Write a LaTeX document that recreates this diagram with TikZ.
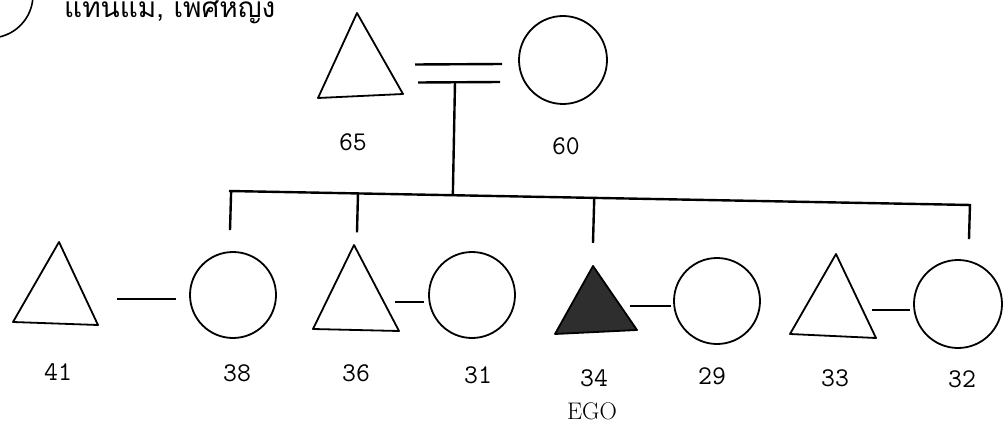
\documentclass[tikz,border=0pt]{standalone}
\usepackage{fontspec}
\newfontfamily\thaifont[Script=Thai]{Loma}
\usetikzlibrary{calc}
\begin{document}
\begin{tikzpicture}[x=1pt,y=-1pt,
  shape line/.style={draw, line width=1.8pt, line join=round},
  female/.style={circle, shape line, inner sep=0pt, minimum size=#1},
  female/.default=86pt,
  malebox/.style={inner sep=0pt, minimum width=85pt, minimum height=83pt},
  link/.style={line width=2.4pt},
  age/.style={font=\fontsize{27}{27}\selectfont\ttfamily, anchor=base},
]
\useasboundingbox (0,0) rectangle (1007,425);
\clip (0,0) rectangle (1007,425);

% partial circle and caption at top left
\draw[line width=1.6pt] (-10,-5) circle[radius=43];
\node[anchor=base west, inner sep=0pt, font=\thaifont\fontsize{28}{28}\selectfont] (cap) at (64,18) {แทนแม่, เพศหญิง};

% parents
\node[malebox] (m65) at (360.5,55) {};
\draw[shape line] (357,13) -- (403,94) -- (318,98) -- cycle;
\node[female=88pt] (f60) at (563,60) {};
\draw[link] ([xshift=12pt,yshift=-9.5pt]m65.east) -- ([xshift=-16pt,yshift=-4pt]f60.west);
\draw[link] ([xshift=15pt,yshift=-27.5pt]m65.east) -- ([xshift=-18pt,yshift=-22pt]f60.west);
\coordinate (mar) at (455,82);
\coordinate (sibL) at (229,191);
\coordinate (sibR) at (971,205);
\draw[link] (sibL) -- (sibR);
\draw[link] (mar) -- ($(sibL)!(mar)!(sibR)$);

% children row
\node[malebox] (m41) at (55.5,283) {};
\draw[shape line] (59,242) -- (98,325) -- (13,322) -- cycle;
\node[female] (f38) at (233,295) {};
\node[malebox] (m36) at (356,288) {};
\draw[shape line] (354,245) -- (399,331) -- (313,329) -- cycle;
\node[female] (f31) at (472,295) {};
\node[malebox, minimum width=82pt, minimum height=68pt] (m34) at (596,300) {};
\draw[shape line, fill=black!82] (593,266) -- (637,330) -- (555,334) -- cycle;
\node[female] (f29) at (717,301) {};
\node[malebox] (m33) at (833,296) {};
\draw[shape line] (836,254) -- (876,338) -- (790,334) -- cycle;
\node[female=88pt] (f32) at (958,304) {};

% marriages
\draw[link] ([xshift=-13pt,yshift=-4pt]f38.west) -- ([xshift=19pt,yshift=-4pt]f38.west -| m41.east);
\draw[link] ([xshift=-4pt,yshift=-7pt]f31.west) -- ([xshift=-4pt,yshift=-7pt]f31.west -| m36.east);
\draw[link] ([xshift=-2pt,yshift=-5pt]f29.west) -- ([xshift=-7pt,yshift=-5pt]f29.west -| m34.east);
\draw[link] ([xshift=-3pt,yshift=-6pt]f32.west) -- ([xshift=-4pt,yshift=-6pt]f32.west -| m33.east);

% descent lines
\draw[link] ($(sibL)!([xshift=-3pt]f38.north)!(sibR)$) -- ([xshift=-3pt,yshift=21pt]f38.north);
\draw[link] ($(sibL)!([xshift=1pt]m36.north)!(sibR)$) -- ([xshift=1pt,yshift=14pt]m36.north);
\draw[link] ($(sibL)!([xshift=-3pt]m34.north)!(sibR)$) -- ([xshift=-3pt,yshift=23pt]m34.north);
\draw[link] ($(sibL)!([xshift=11pt]f32.north)!(sibR)$) -- ([xshift=11pt,yshift=20pt]f32.north);

% ages
\node[age] (a65) at (353,151) {65};
\node[age] (a60) at (566,154) {60};
\node[age] (a41) at (58,380) {41};
\node[age] (a38) at (237,381) {38};
\node[age] (a36) at (356,381) {36};
\node[age] (a31) at (478,383) {31};
\node[age] (a34) at (594,386) {34};
\node[age] (a29) at (712,384) {29};
\node[age] (a33) at (835,386) {33};
\node[age] (a32) at (962,387) {32};
\node[anchor=base, font=\fontsize{24}{24}\selectfont] (ego) at (592,419) {EGO};
\end{tikzpicture}
\end{document}
